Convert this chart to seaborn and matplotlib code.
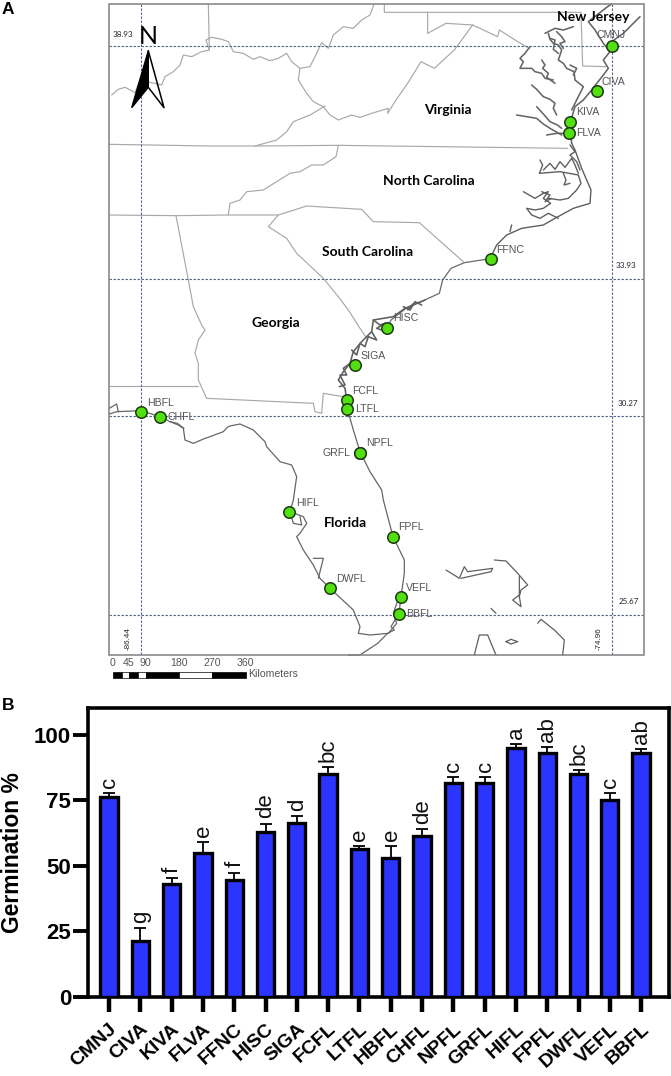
import matplotlib
matplotlib.use('Agg')
import matplotlib.pyplot as plt
from matplotlib.patches import Rectangle
import pandas as pd
import seaborn as sns

W, H = 671, 1076

sites = ['CMNJ', 'CIVA', 'KIVA', 'FLVA', 'FFNC', 'HISC', 'SIGA', 'FCFL', 'LTFL',
         'HBFL', 'CHFL', 'NPFL', 'GRFL', 'HIFL', 'FPFL', 'DWFL', 'VEFL', 'BBFL']
germination = [76.5, 21.5, 43, 55, 44.5, 63, 66.5, 85, 56.5,
               53, 61.5, 81.5, 81.5, 95, 93, 85, 75, 93]
germination_err = [1.3, 4.8, 2.5, 4, 3, 3.2, 2.5, 2.8, 1,
                   4.5, 2.5, 2.5, 2.5, 1.5, 2.5, 1.7, 2.8, 1.7]
letters = ['c', 'g', 'f', 'e', 'f', 'de', 'd', 'bc', 'e',
           'e', 'de', 'c', 'c', 'a', 'ab', 'bc', 'c', 'ab']

# map locations, read in image pixels
site_x = [612, 596.7, 570.3, 568.7, 490.7, 387, 354.7, 347, 347.3,
          141, 159.7, 360.3, 360.3, 289.3, 393, 330.3, 400.7, 399]
site_y = [46, 90.7, 121.7, 133, 258.7, 327.7, 365.3, 400, 409,
          412, 417, 452.7, 452.7, 511.7, 536.7, 587.7, 597, 614]
label_x = [596.7, 602, 576, 576, 496, 392.7, 360, 352.3, 355,
           146.7, 167.3, 365.7, 322.7, 295.7, 398.3, 336, 406.3, 406.3]
label_y = [35, 81.7, 112, 133, 250, 318, 356, 390.7, 409.3,
           402.7, 417.3, 443.3, 452.7, 502.7, 527.3, 578.7, 588.3, 614]

states = ['New Jersey', 'Virginia', 'North Carolina', 'South Carolina', 'Georgia', 'Florida']
state_x = [593.7, 448, 429, 368, 276, 345]
state_y = [17, 110, 181, 252, 322.7, 523]

lat_labels = ['38.93', '33.93', '30.27', '25.67']
lat_label_x = [123, 626, 627.7, 629]
lat_label_y = [34.7, 266, 404, 602]
lat_lines = [46, 279, 416, 615]
lon_labels = ['-86.44', '-74.96']
lon_label_x = [128.3, 598.7]
lon_lines = [141, 612]

scale_ticks = ['0', '45', '90', '180', '270', '360']
scale_x = [112.3, 129, 145.7, 179.3, 212.3, 245.7]

# outlines, each list in its crop's own offset
borders_nw = [
    [(65, 285), (85, 268), (105, 262), (125, 272), (135, 278), (150, 240), (215, 255), (225, 230), (250, 215),
     (270, 195), (280, 165), (305, 170), (335, 155), (358, 150), (348, 120), (365, 112), (395, 118), (415, 125),
     (430, 155), (460, 160), (490, 178), (510, 170), (540, 182), (565, 175), (590, 160), (605, 185), (630, 205),
     (660, 200), (680, 160), (695, 128), (715, 145), (730, 105), (760, 80), (790, 85), (815, 60), (840, 45), (852, 13)],
    [(630, 205), (625, 240), (650, 280), (670, 305), (700, 320), (720, 345), (745, 360), (785, 345), (810, 352),
     (845, 340), (895, 325), (893, 340), (918, 300), (953, 250), (993, 185), (1033, 205), (1093, 150), (1148, 75),
     (1223, 110), (1228, 90), (1283, 125), (1318, 145)],
    [(355, 13), (358, 150)],
    [(58, 433), (360, 438), (495, 438), (745, 436), (1433, 445)],
    [(495, 438), (560, 420), (590, 395), (610, 365), (660, 345), (705, 318)],
    [(745, 436), (738, 470), (700, 495), (665, 495), (630, 515), (600, 520), (560, 545), (520, 570), (470, 575),
     (450, 600), (420, 610), (415, 645)],
    [(58, 645), (260, 647), (415, 645), (565, 645), (650, 618), (815, 628), (850, 665), (988, 668), (1123, 788)],
    [(565, 645), (535, 680), (590, 715), (620, 760), (700, 835), (745, 890), (775, 930), (810, 985), (830, 1015)],
    [(258, 647), (295, 840), (310, 920), (335, 975), (345, 990), (325, 1020)],
    [(883, 13), (883, 37), (1473, 37), (1478, 198), (1548, 200)],
    [(1013, 37), (1013, 100), (1068, 70), (1148, 75)],
]
borders_sw = [
    [(325, 0), (315, 40), (325, 70), (325, 120), (350, 175), (670, 190), (675, 215), (695, 220), (700, 160), (760, 170)],
    [(58, 138), (325, 138)],
]
chesapeake = [
    [(215, 430), (210, 370), (225, 320), (250, 300), (275, 270), (310, 225), (325, 205), (310, 180), (330, 155),
     (310, 130), (285, 90), (265, 65), (320, 22), (335, 12)],
    [(335, 125), (370, 100), (420, 50)],
    [(90, 140), (75, 160), (60, 175), (70, 185), (60, 205), (95, 205), (105, 215), (125, 220), (135, 235), (160, 240)],
    [(125, 180), (135, 195), (128, 205), (145, 220), (140, 232), (165, 250)],
    [(95, 255), (110, 268), (130, 290), (150, 298), (165, 310), (160, 325), (170, 345)],
    [(110, 320), (130, 342), (150, 365), (172, 375), (185, 385)],
    [(50, 345), (80, 350), (110, 355), (130, 372), (150, 385), (185, 405)],
    [(140, 405), (170, 400), (195, 400)],
    [(135, 100), (165, 85), (190, 90), (220, 80)],
    [(145, 100), (150, 118), (160, 130), (175, 135), (185, 150), (175, 180), (190, 190), (200, 205), (222, 215),
     (225, 240), (250, 260), (235, 290), (215, 330)],
    [(170, 95), (185, 110), (195, 125), (180, 130), (190, 145)],
    [(150, 115), (165, 120), (160, 148), (175, 160)],
    [(210, 195), (230, 205), (220, 225)],
]
carolina_coast = [
    [(33, 380), (50, 345), (80, 315), (125, 295), (190, 285), (225, 265), (280, 235), (330, 220), (333, 180),
     (320, 150), (305, 115), (285, 60), (275, 40)],
    [(180, 90), (188, 105), (178, 130), (240, 125), (295, 135), (303, 160), (290, 180), (265, 205), (240, 210), (205, 205)],
    [(190, 120), (210, 100), (225, 118), (240, 95), (255, 112), (275, 85), (285, 105), (295, 130)],
    [(130, 185), (165, 205), (190, 190), (205, 185), (190, 205), (212, 220), (190, 235), (165, 240), (140, 235),
     (155, 255), (180, 265), (205, 250), (235, 265)],
    [(250, 130), (258, 150), (252, 165), (270, 160)],
    [(95, 285), (90, 305)],
    [(270, 45), (285, 65), (270, 75), (290, 95), (300, 120)],
    [(185, 185), (210, 195), (195, 215), (215, 205)],
]
sc_coast = [
    [(359, 776), (345, 778), (280, 788), (240, 805), (215, 840), (205, 880), (150, 905), (125, 912), (110, 930),
     (125, 915), (105, 925), (60, 960), (50, 980)],
]
georgia_coast = [
    [(285, 0), (250, 15), (225, 25), (190, 50), (130, 60), (125, 95), (95, 125), (70, 155), (60, 190), (40, 215),
     (25, 240), (45, 265), (50, 300), (55, 350)],
    [(220, 20), (240, 30), (255, 5), (275, 15)],
    [(130, 60), (150, 75), (165, 70), (140, 85), (170, 95)],
    [(125, 95), (140, 120), (115, 110), (105, 140), (90, 130), (80, 165), (65, 150)],
    [(60, 190), (40, 205), (50, 225), (30, 225), (45, 255), (28, 260)],
]
coast_sw = [
    [(58, 222), (80, 215), (153, 212), (210, 230), (240, 245), (265, 255), (280, 265), (285, 300), (310, 310),
     (345, 295), (360, 290), (400, 275), (412, 262), (420, 258), (450, 252), (490, 270), (525, 305), (530, 320),
     (570, 365), (605, 375), (620, 410), (610, 480), (600, 515), (640, 530), (650, 550), (630, 580), (620, 590),
     (640, 630), (670, 675), (690, 715), (720, 745), (790, 810), (810, 860), (805, 880), (840, 885), (895, 880),
     (920, 850), (910, 820), (927, 770)],
    [(773, 210), (790, 270), (810, 335), (840, 395), (875, 450), (880, 480), (909, 590), (943, 660), (943, 700),
     (933, 770), (927, 820), (903, 860), (913, 870), (893, 880), (863, 910), (810, 945), (775, 945)],
    [(600, 515), (610, 550), (635, 555), (630, 530)],
    [(670, 655), (700, 655), (685, 715)],
    [(58, 205), (80, 192), (85, 215)],
    [(240, 245), (262, 250), (282, 265)],
]
islands_se = [
    [(225, 690), (265, 715), (280, 680), (290, 695), (365, 685), (360, 695), (270, 715)],
    [(370, 660), (405, 663), (440, 700), (470, 735), (450, 750), (445, 770), (450, 800), (425, 780), (445, 765), (445, 710)],
    [(360, 805), (375, 820)],
    [(500, 850), (510, 838), (550, 870), (580, 900), (575, 945)],
    [(310, 945), (325, 885), (350, 885), (375, 945)],
    [(405, 905), (420, 898), (440, 905), (420, 912), (405, 905)],
]

sns.set_theme(style='ticks')
plt.rcParams['font.family'] = ['Liberation Sans', 'DejaVu Sans']

fig = plt.figure(figsize=(W / 100, H / 100), dpi=100)

# panel A, the whole figure in pixel units
mp = fig.add_axes([0, 0, 1, 1])


def trace(paths, ox, oy, color, lw):
    for p in paths:
        xs = [ox + a / 3 for a, b in p]
        ys = [oy + b / 3 for a, b in p]
        mp.plot(xs, ys, color=color, lw=lw, solid_joinstyle='round', zorder=2)


trace(borders_nw, 90, 0, '#a8a8a8', 0.85)
trace(borders_sw, 90, 340, '#a8a8a8', 0.85)
trace(chesapeake, 500, 0, '#666666', 1.15)
trace(carolina_coast, 480, 130, '#5f5f5f', 1.0)
trace(sc_coast, 371, 0, '#6a6a6a', 0.9)
trace(georgia_coast, 330, 300, '#5f5f5f', 1.15)
trace(coast_sw, 90, 340, '#666666', 0.9)
trace(islands_se, 371, 340, '#5f5f5f', 0.9)

mp.add_patch(Rectangle((109, 4), 535, 651, fill=False, ec='#808080', lw=1.1, zorder=4))
for y in lat_lines:
    mp.plot([109, 644], [y, y], color='#56658f', lw=0.8, ls=(0, (2.2, 1.4)), zorder=3)
for x in lon_lines:
    mp.plot([x, x], [4, 655], color='#56658f', lw=0.8, ls=(0, (2.2, 1.4)), zorder=3)

site_df = pd.DataFrame({'x': site_x, 'y': site_y})
sns.scatterplot(data=site_df, x='x', y='y', ax=mp, s=68, color='#52e010', edgecolor='#1d3a12',
                linewidth=1.1, zorder=5, legend=False)
mp.set_xlim(0, W)
mp.set_ylim(H, 0)
mp.axis('off')

for name, x, y in zip(sites, label_x, label_y):
    mp.text(x, y, name, fontsize=7.6, color='#555555', ha='left', va='center', zorder=6)
for name, x, y in zip(states, state_x, state_y):
    mp.text(x, y, name, fontsize=10, family='Lato', weight='bold', color='black', ha='center', va='center', zorder=6)
for name, x, y in zip(lat_labels, lat_label_x, lat_label_y):
    mp.text(x, y, name, fontsize=5.8, family='Lato', color='#222222', ha='center', va='center', zorder=6)
for name, x in zip(lon_labels, lon_label_x):
    mp.text(x, 639, name, fontsize=5.8, color='#222222', rotation=90, ha='center', va='center', zorder=6)

# north arrow
mp.text(148, 36, 'N', fontsize=18, family='Lato', color='black', ha='center', va='center', zorder=6)
mp.fill([148.3, 131.7, 148.3], [50.7, 107.7, 87.3], color='black', zorder=6)
mp.plot([148.3, 164, 148.3], [50.7, 107.7, 87.3], color='black', lw=1.1, zorder=6)

# scale bar
edges = [112.7, 121.7, 129.3, 138.3, 146, 179.3, 212.3, 245.7]
for i in range(len(edges) - 1):
    mp.add_patch(Rectangle((edges[i], 672), edges[i + 1] - edges[i], 6.3,
                           fc='black' if i % 2 == 0 else 'white', ec='black', lw=0.5, zorder=6))
for name, x in zip(scale_ticks, scale_x):
    mp.text(x, 662.7, name, fontsize=7.6, color='#555555', ha='center', va='center')
mp.text(248, 674.3, 'Kilometers', fontsize=7.6, color='#555555', ha='left', va='center')

mp.text(2, 9, 'A', fontsize=12.5, weight='bold', color='black', ha='left', va='center')
mp.text(2, 705, 'B', fontsize=12.5, weight='bold', color='black', ha='left', va='center')

# panel B
left, right, top, bottom = 88.3, 669, 708, 997
ax = fig.add_axes([left / W, 1 - bottom / H, (right - left) / W, (bottom - top) / H])
df = pd.DataFrame({'site': sites, 'germination': germination})
sns.barplot(data=df, x='site', y='germination', color='#2b35ff', saturation=1, width=0.555,
            edgecolor='black', linewidth=2.4, ax=ax, zorder=3)
ax.errorbar(range(len(sites)), germination, yerr=[[0] * len(sites), germination_err], fmt='none',
            ecolor='black', elinewidth=1.3, capsize=4.3, capthick=1.3, zorder=2)
for i, t in enumerate(letters):
    # baseline sits right of the bar centre, as in the picture
    ax.text(i + 0.19, germination[i] + germination_err[i] + 2, t, rotation=90, rotation_mode='anchor',
            fontsize=16, ha='left', va='baseline', color='#111111')

ax.set_xlim((left - 109) / 31.3, (right - 109) / 31.3)
ax.set_ylim(0, 110.3)
ax.set_yticks([0, 25, 50, 75, 100])
ax.set_xlabel('')
ax.set_ylabel('Germination %', fontsize=16.5, weight='bold', color='black', labelpad=7)
ax.tick_params(axis='y', length=10.8, width=2.8, labelsize=16, pad=1.5, labelcolor='black', color='black')
ax.tick_params(axis='x', length=11, width=3.2, pad=6, labelcolor='black', color='black')
for lab in ax.get_yticklabels():
    lab.set_fontweight('bold')
ax.set_xticks(range(len(sites)))
ax.set_xticklabels(sites, rotation=42, ha='right', rotation_mode='anchor', fontsize=14, weight='bold')
for side in ax.spines:
    ax.spines[side].set_visible(True)
    ax.spines[side].set_linewidth(2.6)
    ax.spines[side].set_color('black')

fig.savefig('out.png', dpi=100)
